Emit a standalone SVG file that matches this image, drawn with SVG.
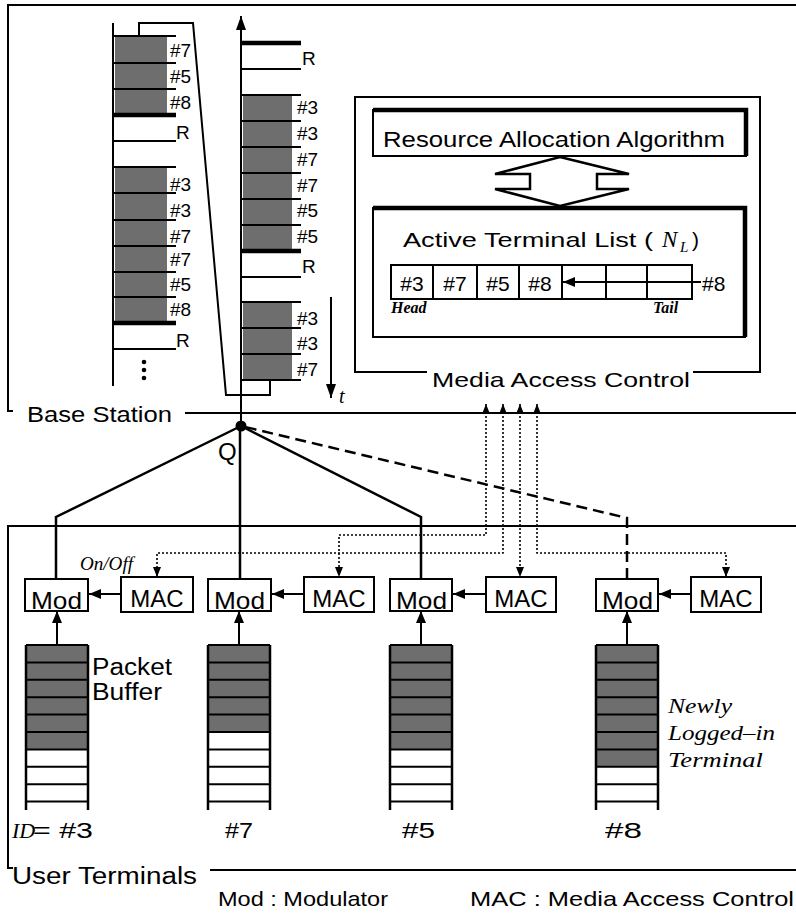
<svg xmlns="http://www.w3.org/2000/svg" width="796" height="916" viewBox="0 0 796 916">
<defs>
<style>
.t{font-family:"Liberation Sans",Arial,sans-serif;fill:#000}
.s{font-family:"Liberation Serif","Times New Roman",serif;font-style:italic;fill:#000}
.ln{stroke:#000;stroke-width:2;fill:none}
.thk{stroke:#000;stroke-width:4.5;fill:none}
.sh{fill:#6e6e6e}
.box{fill:#fff;stroke:#000;stroke-width:2}
.sol{stroke:#000;stroke-width:2.5;fill:none}
.dash{stroke:#000;stroke-width:2.5;fill:none;stroke-dasharray:11,6}
.dot{stroke:#000;stroke-width:1.6;fill:none;stroke-dasharray:2,2}
</style>
<marker id="big" viewBox="0 0 14 10" refX="14" refY="5" markerWidth="14" markerHeight="10" orient="auto" markerUnits="userSpaceOnUse"><path d="M0,0 L14,5 L0,10 z" fill="#000"/></marker>
<marker id="sm" viewBox="0 0 10 8" refX="10" refY="4" markerWidth="10" markerHeight="8" orient="auto-start-reverse" markerUnits="userSpaceOnUse"><path d="M0,0 L10,4 L0,8 z" fill="#000"/></marker>
<marker id="md" viewBox="0 0 12 10" refX="12" refY="5" markerWidth="12" markerHeight="10" orient="auto" markerUnits="userSpaceOnUse"><path d="M0,0 L12,5 L0,10 z" fill="#000"/></marker>
</defs>
<rect width="796" height="916" fill="#fff"/>

<!-- Base station frame -->
<g id="base-station">
<path class="ln" d="M13,411 H8 V5 H796"/>
<path class="ln" d="M185,413 H796"/>
<text class="t" x="27" y="422" font-size="22" textLength="145" lengthAdjust="spacingAndGlyphs">Base Station</text>
</g>

<!-- Left queue column -->
<g id="queue-left">
<rect class="sh" x="115" y="37" width="52" height="26"/>
<rect class="sh" x="115" y="64" width="52" height="25"/>
<rect class="sh" x="115" y="90" width="52" height="24"/>
<rect class="sh" x="115" y="168" width="52" height="25"/>
<rect class="sh" x="115" y="194" width="52" height="26"/>
<rect class="sh" x="115" y="221" width="52" height="25"/>
<rect class="sh" x="115" y="247" width="52" height="25"/>
<rect class="sh" x="115" y="273" width="52" height="24"/>
<rect class="sh" x="115" y="298" width="52" height="24"/>
<path class="ln" d="M113,23 V386"/>
<path class="ln" d="M113,36 H176 M113,63 H176 M113,89 H176 M113,141 H176 M113,167 H176 M113,193 H176 M113,220 H176 M113,246 H176 M113,272 H176 M113,297 H176 M113,349 H176"/>
<path class="thk" d="M113,115 H176 M113,323 H176"/>
<g class="t" font-size="19">
<text x="170" y="57">#7</text>
<text x="170" y="83">#5</text>
<text x="170" y="109">#8</text>
<text x="176" y="139">R</text>
<text x="170" y="191">#3</text>
<text x="170" y="217">#3</text>
<text x="170" y="243">#7</text>
<text x="170" y="266">#7</text>
<text x="170" y="291">#5</text>
<text x="170" y="316">#8</text>
<text x="176" y="347">R</text>
</g>
<circle cx="144" cy="362" r="2.3"/>
<circle cx="144" cy="370" r="2.3"/>
<circle cx="144" cy="378" r="2.3"/>
</g>

<!-- Right queue column (time axis) -->
<g id="queue-right">
<rect class="sh" x="243" y="96" width="49" height="25"/>
<rect class="sh" x="243" y="122" width="49" height="25"/>
<rect class="sh" x="243" y="148" width="49" height="25"/>
<rect class="sh" x="243" y="174" width="49" height="25"/>
<rect class="sh" x="243" y="200" width="49" height="25"/>
<rect class="sh" x="243" y="226" width="49" height="24"/>
<rect class="sh" x="243" y="303" width="49" height="25"/>
<rect class="sh" x="243" y="329" width="49" height="25"/>
<rect class="sh" x="243" y="355" width="49" height="25"/>
<path class="ln" d="M241,69 H301 M241,95 H301 M241,121 H301 M241,147 H301 M241,173 H301 M241,199 H301 M241,225 H301 M241,277 H301 M241,302 H301 M241,328 H301 M241,354 H301 M241,380 H301"/>
<path class="thk" d="M241,43 H301 M241,251 H301"/>
<g class="t" font-size="19">
<text x="302" y="65">R</text>
<text x="297" y="114">#3</text>
<text x="297" y="140">#3</text>
<text x="297" y="166">#7</text>
<text x="297" y="192">#7</text>
<text x="297" y="217">#5</text>
<text x="297" y="243">#5</text>
<text x="302" y="273">R</text>
<text x="297" y="325">#3</text>
<text x="297" y="350">#3</text>
<text x="297" y="376">#7</text>
</g>
<text class="s" x="339" y="403" font-size="20">t</text>
</g>

<!-- Media Access Control block -->
<g id="mac-block">
<path class="ln" d="M427,372 H355 V97 H760 V372 H693"/>
<text class="t" x="432" y="387" font-size="21" textLength="258" lengthAdjust="spacingAndGlyphs">Media Access  Control</text>
</g>
<g id="resource-allocation">
<rect class="box" x="373" y="110" width="373" height="46"/>
<path class="thk" d="M373,110 H746 V156"/>
<text class="t" x="383" y="147" font-size="22" textLength="342" lengthAdjust="spacingAndGlyphs">Resource Allocation Algorithm</text>
</g>
<g id="double-arrow">
<polygon points="560,157 629,174 597,174 597,189 629,189 560,206 495,189 530,189 530,174 495,174" fill="#fff" stroke="#000" stroke-width="2.5" stroke-linejoin="miter"/>
</g>
<g id="active-list">
<rect class="box" x="373" y="208" width="372" height="129"/>
<path class="thk" d="M373,208 H745 V337"/>
<text class="t" x="403" y="247" font-size="21" textLength="250" lengthAdjust="spacingAndGlyphs">Active Terminal List (</text>
<text class="s" x="662" y="247" font-size="23">N</text>
<text class="s" x="680" y="252" font-size="15">L</text>
<text class="t" x="692" y="247" font-size="21">)</text>
<rect x="391" y="265" width="301" height="34" fill="none" stroke="#000" stroke-width="2"/>
<path class="ln" d="M433,265 V299 M477,265 V299 M519,265 V299 M562,265 V299 M606,265 V299 M647,265 V299"/>
<g class="t" font-size="21" text-anchor="middle">
<text x="412" y="291">#3</text>
<text x="455" y="291">#7</text>
<text x="498" y="291">#5</text>
<text x="540" y="291">#8</text>
</g>
<path class="ln" d="M701,282 H563" marker-end="url(#md)"/>
<text class="t" x="702" y="291" font-size="21">#8</text>
<text class="s" x="391" y="313" font-size="16" font-weight="bold">Head</text>
<text class="s" x="653" y="313" font-size="16" font-weight="bold">Tail</text>
</g>

<!-- User terminals frame -->
<g id="user-terminals">
<path class="ln" d="M796,526 H8 V868 H13"/>
<path class="ln" d="M210,870 H796"/>
<text class="t" x="12" y="884" font-size="23" textLength="185" lengthAdjust="spacingAndGlyphs">User Terminals</text>
</g>

<!-- Q node -->
<g id="node-Q">
<circle cx="241" cy="426" r="5.5" fill="#000"/>
<text class="t" x="218" y="460" font-size="24">Q</text>
</g>

<!-- Terminal #3 -->
<g id="terminal-3">
<rect class="box" x="25" y="579" width="63" height="32"/>
<text class="t" x="31" y="609" font-size="24" textLength="51" lengthAdjust="spacingAndGlyphs">Mod</text>
<rect class="box" x="121" y="577" width="72" height="35"/>
<text class="t" x="157" y="607" font-size="24" text-anchor="middle">MAC</text>
<g>
<rect class="sh" x="27" y="646" width="60" height="104"/>
<path class="ln" d="M26,645 H88 M26,662.4 H88 M26,679.8 H88 M26,697.2 H88 M26,714.6 H88 M26,732 H88 M26,749.4 H88 M26,766.8 H88 M26,784.2 H88 M26,801.6 H88"/>
<path class="sol" d="M26,645 V810 M88,645 V810"/>
</g>
<text class="t" x="92" y="675" font-size="23" textLength="80" lengthAdjust="spacingAndGlyphs">Packet</text>
<text class="t" x="92" y="700" font-size="23" textLength="70" lengthAdjust="spacingAndGlyphs">Buffer</text>
<text class="s" x="12" y="838" font-size="22">ID</text>
<text class="t" x="33" y="838" font-size="22" textLength="60" lengthAdjust="spacingAndGlyphs">= #3</text>
<text class="s" x="80" y="570" font-size="18" textLength="53" lengthAdjust="spacingAndGlyphs">On/Off</text>
</g>

<!-- Terminal #7 -->
<g id="terminal-7">
<rect class="box" x="208" y="579" width="63" height="32"/>
<text class="t" x="214" y="609" font-size="24" textLength="51" lengthAdjust="spacingAndGlyphs">Mod</text>
<rect class="box" x="304" y="577" width="70" height="35"/>
<text class="t" x="339" y="607" font-size="24" text-anchor="middle">MAC</text>
<g>
<rect class="sh" x="209" y="646" width="60" height="86"/>
<path class="ln" d="M208,645 H270 M208,662.4 H270 M208,679.8 H270 M208,697.2 H270 M208,714.6 H270 M208,732 H270 M208,749.4 H270 M208,766.8 H270 M208,784.2 H270 M208,801.6 H270"/>
<path class="sol" d="M208,645 V810 M270,645 V810"/>
</g>
<text class="t" x="225" y="838" font-size="22" textLength="28" lengthAdjust="spacingAndGlyphs">#7</text>
</g>

<!-- Terminal #5 -->
<g id="terminal-5">
<rect class="box" x="390" y="579" width="62" height="32"/>
<text class="t" x="396" y="609" font-size="24" textLength="51" lengthAdjust="spacingAndGlyphs">Mod</text>
<rect class="box" x="486" y="577" width="70" height="35"/>
<text class="t" x="521" y="607" font-size="24" text-anchor="middle">MAC</text>
<g>
<rect class="sh" x="391" y="646" width="60" height="103"/>
<path class="ln" d="M390,645 H452 M390,662.4 H452 M390,679.8 H452 M390,697.2 H452 M390,714.6 H452 M390,732 H452 M390,749.4 H452 M390,766.8 H452 M390,784.2 H452 M390,801.6 H452"/>
<path class="sol" d="M390,645 V810 M452,645 V810"/>
</g>
<text class="t" x="402" y="838" font-size="22" textLength="33" lengthAdjust="spacingAndGlyphs">#5</text>
</g>

<!-- Terminal #8 -->
<g id="terminal-8">
<rect class="box" x="596" y="579" width="62" height="32"/>
<text class="t" x="602" y="609" font-size="24" textLength="51" lengthAdjust="spacingAndGlyphs">Mod</text>
<rect class="box" x="691" y="577" width="70" height="35"/>
<text class="t" x="726" y="607" font-size="24" text-anchor="middle">MAC</text>
<g>
<rect class="sh" x="597" y="646" width="60" height="121"/>
<path class="ln" d="M596,645 H658 M596,662.4 H658 M596,679.8 H658 M596,697.2 H658 M596,714.6 H658 M596,732 H658 M596,749.4 H658 M596,766.8 H658 M596,784.2 H658 M596,801.6 H658"/>
<path class="sol" d="M596,645 V810 M658,645 V810"/>
</g>
<text class="t" x="605" y="838" font-size="22" textLength="37" lengthAdjust="spacingAndGlyphs">#8</text>
<text class="s" x="668" y="713" font-size="21" textLength="64" lengthAdjust="spacingAndGlyphs">Newly</text>
<text class="s" x="668" y="740" font-size="21" textLength="107" lengthAdjust="spacingAndGlyphs">Logged–in</text>
<text class="s" x="668" y="767" font-size="21" textLength="95" lengthAdjust="spacingAndGlyphs">Terminal</text>
</g>

<!-- Legend -->
<g id="legend">
<text class="t" x="218" y="906" font-size="21" textLength="170" lengthAdjust="spacingAndGlyphs">Mod : Modulator</text>
<text class="t" x="470" y="906" font-size="21" textLength="324" lengthAdjust="spacingAndGlyphs">MAC : Media Access Control</text>
</g>

<!-- Connectors -->
<g id="connectors">
<path class="ln" d="M241,428 V16" marker-end="url(#big)"/>
<path class="ln" d="M139,36 V23 H193 L226,395 H270 V380"/>
<path class="ln" d="M331,297 V398" marker-end="url(#big)"/>
<path class="sol" d="M56,579 V517 L241,426"/>
<path class="sol" d="M240,579 V426"/>
<path class="sol" d="M421,579 V517 L241,426"/>
<path class="dash" d="M627,579 V518 L241,426"/>
<path class="dot" d="M486,404 V535 H339 V577" marker-start="url(#sm)" marker-end="url(#sm)"/>
<path class="dot" d="M503,404 V553 H157 V577" marker-start="url(#sm)" marker-end="url(#sm)"/>
<path class="dot" d="M520,404 V577" marker-start="url(#sm)" marker-end="url(#sm)"/>
<path class="dot" d="M537,404 V553 H726 V577" marker-start="url(#sm)" marker-end="url(#sm)"/>
<path class="ln" d="M121,594 H89" marker-end="url(#md)"/>
<path class="ln" d="M304,594 H272" marker-end="url(#md)"/>
<path class="ln" d="M486,594 H453" marker-end="url(#md)"/>
<path class="ln" d="M691,594 H659" marker-end="url(#md)"/>
<path class="ln" d="M57,645 V611" marker-end="url(#md)"/>
<path class="ln" d="M239,645 V611" marker-end="url(#md)"/>
<path class="ln" d="M421,645 V611" marker-end="url(#md)"/>
<path class="ln" d="M627,645 V611" marker-end="url(#md)"/>
</g>
</svg>
